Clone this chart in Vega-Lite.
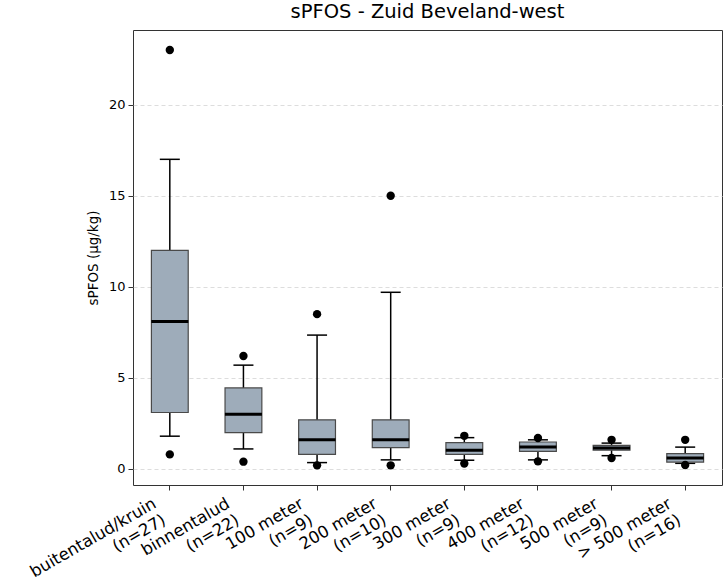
{
  "$schema": "https://vega.github.io/schema/vega-lite/v6.json",
  "width": 589,
  "height": 455,
  "autosize": {"type": "none"},
  "padding": {"left": 133, "top": 30, "right": 4, "bottom": 100},
  "title": {"text": "sPFOS - Zuid Beveland-west", "font": "DejaVu Sans", "fontSize": 19.5, "fontWeight": "normal", "color": "#000", "offset": 8},
  "config": {
    "view": {"stroke": "#333", "strokeWidth": 1},
    "font": "DejaVu Sans"
  },
  "datasets": {
    "stats": [
      {"group": "buitentalud/kruin|(n=27)", "lower": 1.8, "q1": 3.1, "median": 8.1, "q3": 12.0, "upper": 17.0},
      {"group": "binnentalud|(n=22)", "lower": 1.1, "q1": 2.0, "median": 3.0, "q3": 4.45, "upper": 5.7},
      {"group": "100 meter|(n=9)", "lower": 0.35, "q1": 0.8, "median": 1.6, "q3": 2.7, "upper": 7.35},
      {"group": "200 meter|(n=10)", "lower": 0.5, "q1": 1.17, "median": 1.6, "q3": 2.7, "upper": 9.7},
      {"group": "300 meter|(n=9)", "lower": 0.48, "q1": 0.8, "median": 1.03, "q3": 1.45, "upper": 1.72},
      {"group": "400 meter|(n=12)", "lower": 0.5, "q1": 0.97, "median": 1.2, "q3": 1.48, "upper": 1.6},
      {"group": "500 meter|(n=9)", "lower": 0.73, "q1": 1.03, "median": 1.15, "q3": 1.3, "upper": 1.42},
      {"group": "> 500 meter|(n=16)", "lower": 0.31, "q1": 0.38, "median": 0.6, "q3": 0.84, "upper": 1.2}
    ],
    "outliers": [
      {"group": "buitentalud/kruin|(n=27)", "value": 23.0},
      {"group": "buitentalud/kruin|(n=27)", "value": 0.8},
      {"group": "binnentalud|(n=22)", "value": 6.2},
      {"group": "binnentalud|(n=22)", "value": 0.4},
      {"group": "100 meter|(n=9)", "value": 8.5},
      {"group": "100 meter|(n=9)", "value": 0.2},
      {"group": "200 meter|(n=10)", "value": 15.0},
      {"group": "200 meter|(n=10)", "value": 0.2},
      {"group": "300 meter|(n=9)", "value": 1.82},
      {"group": "300 meter|(n=9)", "value": 0.3},
      {"group": "400 meter|(n=12)", "value": 1.7},
      {"group": "400 meter|(n=12)", "value": 0.42},
      {"group": "500 meter|(n=9)", "value": 1.6},
      {"group": "500 meter|(n=9)", "value": 0.6},
      {"group": "> 500 meter|(n=16)", "value": 1.6},
      {"group": "> 500 meter|(n=16)", "value": 0.22}
    ]
  },
  "encoding": {
    "x": {
      "field": "group", "type": "nominal", "sort": null,
      "scale": {"paddingInner": 0, "paddingOuter": 0},
      "axis": {
        "title": null,
        "labelExpr": "split(datum.label, '|')",
        "labelAngle": -30, "labelAlign": "right", "labelBaseline": "top",
        "labelFontSize": 16.5, "labelColor": "#000", "labelPadding": 5,
        "labelLineHeight": 19, "labelOffset": -19, "labelOverlap": false, "labelBound": false,
        "domain": false, "ticks": true, "tickSize": 5, "tickColor": "#333",
        "grid": false
      }
    }
  },
  "layer": [
    {
      "data": {"name": "stats"},
      "mark": {"type": "rule", "color": "#000", "strokeWidth": 1.5},
      "encoding": {
        "y": {
          "field": "lower", "type": "quantitative",
          "scale": {"domain": [-0.88, 24.1], "nice": false, "zero": false},
          "axis": {
            "title": "sPFOS (µg/kg)", "titleFontSize": 13.5, "titleFontWeight": "normal", "titleColor": "#000", "titlePadding": 8,
            "values": [0, 5, 10, 15, 20],
            "labelFontSize": 13, "labelColor": "#000", "labelPadding": 3,
            "domain": false, "tickSize": 5, "tickColor": "#333",
            "grid": true, "gridColor": "#dddddd", "gridDash": [4, 3], "gridWidth": 1
          }
        },
        "y2": {"field": "upper"}
      }
    },
    {
      "data": {"name": "stats"},
      "mark": {"type": "tick", "orient": "horizontal", "size": 20, "thickness": 1.5, "color": "#000", "opacity": 1},
      "encoding": {"y": {"field": "lower", "type": "quantitative"}}
    },
    {
      "data": {"name": "stats"},
      "mark": {"type": "tick", "orient": "horizontal", "size": 20, "thickness": 1.5, "color": "#000", "opacity": 1},
      "encoding": {"y": {"field": "upper", "type": "quantitative"}}
    },
    {
      "data": {"name": "stats"},
      "mark": {"type": "bar", "width": {"band": 0.5}, "fill": "#9eacba", "stroke": "#4a4a4a", "strokeWidth": 1.2, "opacity": 1},
      "encoding": {
        "y": {"field": "q1", "type": "quantitative"},
        "y2": {"field": "q3"}
      }
    },
    {
      "data": {"name": "stats"},
      "mark": {"type": "tick", "orient": "horizontal", "size": 37, "thickness": 3, "color": "#000", "opacity": 1},
      "encoding": {"y": {"field": "median", "type": "quantitative"}}
    },
    {
      "data": {"name": "outliers"},
      "mark": {"type": "point", "filled": true, "color": "#000", "size": 70, "opacity": 1},
      "encoding": {"y": {"field": "value", "type": "quantitative"}}
    }
  ]
}
